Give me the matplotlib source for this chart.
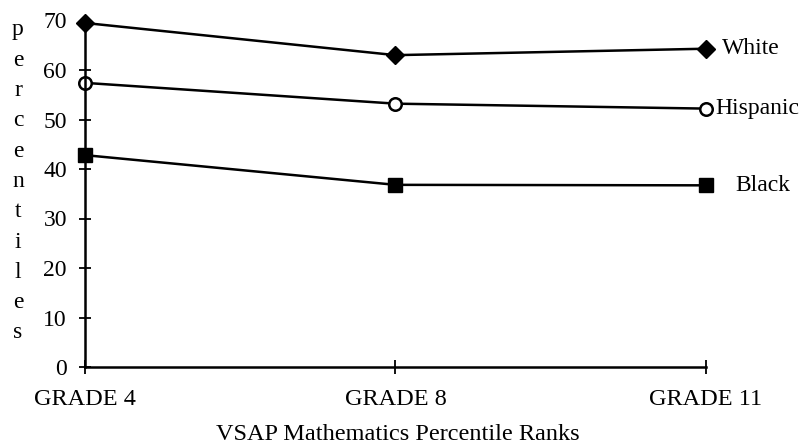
import matplotlib.pyplot as plt

grades = ["GRADE 4", "GRADE 8", "GRADE 11"]
white = [69.5, 63.0, 64.3]
hispanic = [57.4, 53.2, 52.2]
black = [42.8, 36.8, 36.7]
group_labels = ["White", "Hispanic", "Black"]

plt.rcParams['font.family'] = ['Liberation Serif', 'DejaVu Serif']

fig = plt.figure(figsize=(8.12, 4.46), dpi=100, facecolor='w')
ax = fig.add_axes([85 / 812, 79 / 446, 621 / 812, 346.5 / 446])

x = [0, 1, 2]
ax.plot(x, white, '-', color='black', lw=1.8, marker='D', ms=9, mfc='black', clip_on=False)
ax.plot(x, hispanic, '-', color='black', lw=1.8, marker='o', ms=9, mfc='white', mew=1.8, clip_on=False)
ax.plot(x, black, '-', color='black', lw=1.8, marker='s', ms=10, mfc='black', clip_on=False)

for vals, lab, dx in zip([white, hispanic, black], group_labels, [0.052, 0.03, 0.093]):
    ax.text(2 + dx, vals[-1], lab, fontsize=17, va='center', ha='left')

ax.set_xlim(0, 2)
ax.set_ylim(0, 70)
ax.set_yticks(range(0, 71, 10))
ax.set_xticks(x)
ax.set_xticklabels(grades, fontsize=17.5)
ax.tick_params(axis='y', direction='inout', length=8, width=1.3, labelsize=17, pad=9)
ax.tick_params(axis='x', direction='inout', length=10, width=1.3, pad=11)
ax.spines['top'].set_visible(False)
ax.spines['right'].set_visible(False)
ax.spines['left'].set_linewidth(1.8)
ax.spines['bottom'].set_linewidth(1.8)

# y label written as stacked letters
for i, ch in enumerate("percentiles"):
    fig.text(18 / 812, 1 - (30 + i * 30.3) / 446, ch, fontsize=17, ha='center', va='center')

fig.text(398 / 812, 1 - 440 / 446, "VSAP Mathematics Percentile Ranks", fontsize=17.5,
         ha='center', va='baseline')

plt.savefig('out.png', dpi=100)
